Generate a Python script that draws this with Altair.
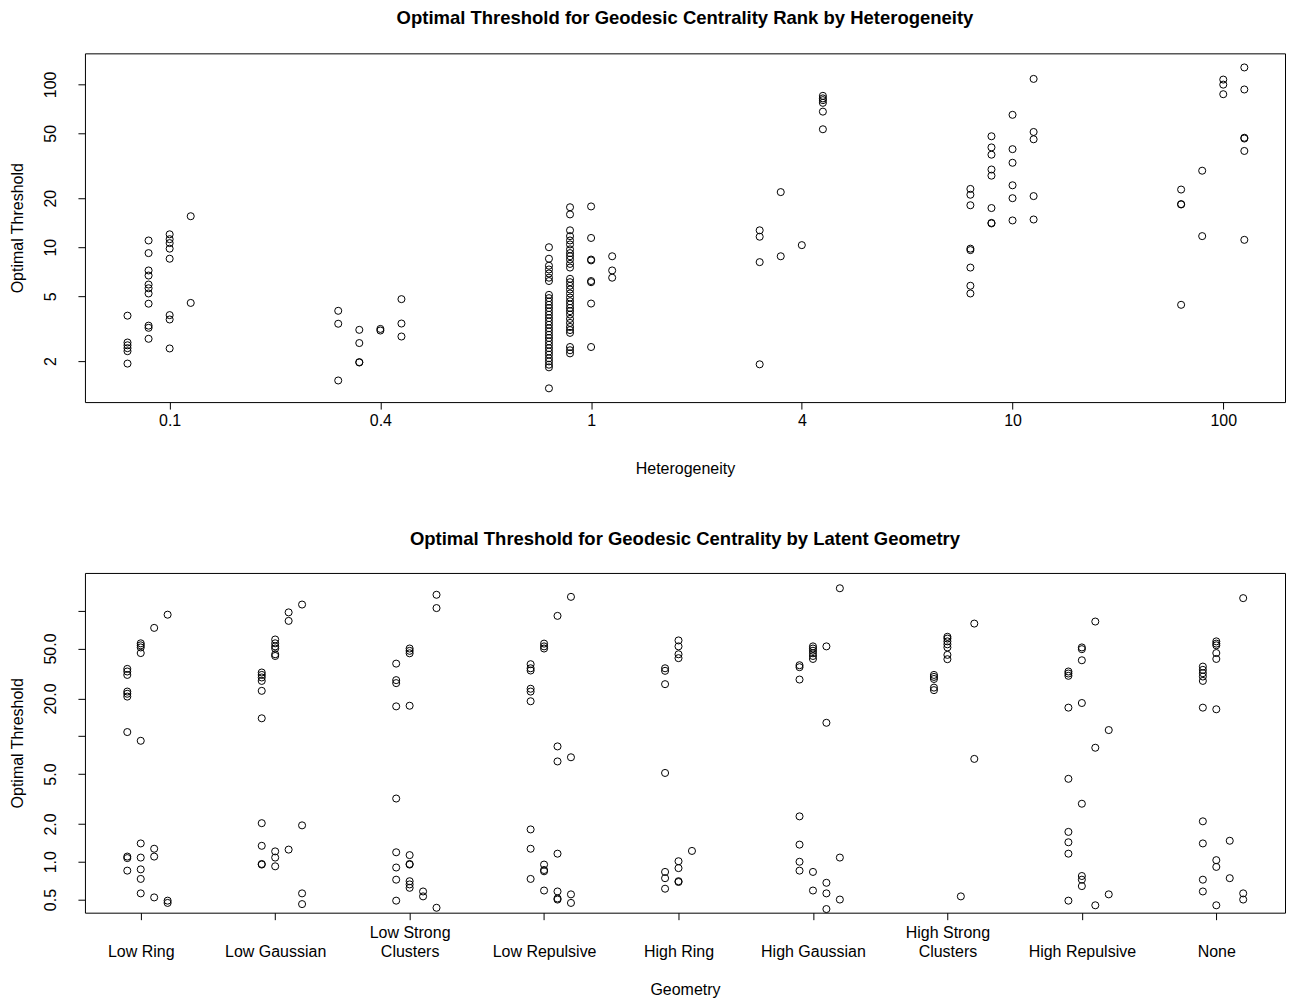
import json
import altair as alt
import pandas as pd

# ---------------- Top panel data: Heterogeneity ----------------
HET_LEVELS = ["0.1", "0.4", "1", "4", "10", "100"]
HET_OFFSETS = [-0.2, -0.1, 0.0, 0.1]

het_01 = [
    [3.8, 2.6, 2.5, 2.4, 2.3, 1.93],
    [11.0, 9.2, 7.2, 6.7, 5.9, 5.6, 5.2, 4.5, 3.3, 3.2, 2.74],
    [12.0, 11.2, 10.6, 9.8, 8.5, 3.83, 3.6, 2.39],
    [15.5, 4.55],
]
het_04 = [
    [4.07, 3.39, 1.52],
    [3.11, 2.58, 1.97, 1.96],
    [3.15, 3.08],
    [4.8, 3.4, 2.83],
]
het_1 = [
    [10.0, 8.5, 7.7, 7.3, 6.9, 6.5, 6.2, 5.1, 4.87, 4.64, 4.43, 4.23, 4.03, 3.85,
     3.67, 3.50, 3.34, 3.18, 3.04, 2.90, 2.77, 2.64, 2.52, 2.40, 2.29, 2.19, 2.08,
     1.99, 1.90, 1.83, 1.36],
    [17.6, 15.9, 12.7, 11.7, 11.0, 10.4, 9.7, 9.2, 8.8, 8.4, 7.9, 7.5, 6.4, 6.1,
     5.8, 5.5, 5.2, 4.91, 4.66, 4.45, 4.24, 4.05, 3.86, 3.63, 3.43, 3.24, 3.10,
     2.98, 2.44, 2.33, 2.23],
    [17.8, 11.4, 8.4, 8.3, 6.2, 6.1, 4.51, 2.44],
    [8.8, 7.2, 6.5],
]
het_4 = [
    [12.7, 11.6, 8.1, 1.91],
    [21.8, 8.8],
    [10.3],
    [85, 82, 80, 77, 68, 53],
]
het_10 = [
    [22.8, 21.0, 18.1, 9.8, 9.6, 7.5, 5.8, 5.2],
    [48, 41, 37, 30, 27.5, 17.4, 14.1, 14.0],
    [65, 40, 33, 24, 20, 14.6],
    [108, 51, 46, 20.6, 14.8],
]
het_100 = [
    [22.6, 18.4, 18.3, 4.43],
    [29.5, 11.7],
    [107, 99.6, 87],
    [127, 93, 47, 46.5, 39, 11.1],
]
HET_DATA = [het_01, het_04, het_1, het_4, het_10, het_100]

# ---------------- Bottom panel data: Geometry ----------------
GEOMS = ["Low Ring", "Low Gaussian", "Low Strong Clusters", "Low Repulsive",
         "High Ring", "High Gaussian", "High Strong Clusters", "High Repulsive", "None"]
GEO_OFFSETS = [-0.1, 0.0, 0.1, 0.2]

g_low_ring = [
    [34.4, 32.8, 30.8, 22.7, 21.8, 20.7, 10.8, 1.10, 1.07, 0.85],
    [55, 53, 51, 46, 9.2, 1.40, 1.08, 0.87, 0.73, 0.56],
    [73, 1.27, 1.10, 0.52],
    [93, 0.49, 0.47],
]
g_low_gauss = [
    [32.2, 30.8, 29.4, 27.6, 23.0, 13.9, 2.03, 1.34, 0.96, 0.95],
    [59, 55, 52, 50, 45, 43.6, 1.21, 1.08, 0.92],
    [97, 83, 1.25],
    [112, 1.95, 0.56, 0.46],
]
g_low_clus = [
    [37.9, 28, 26.5, 17.3, 3.19, 1.19, 0.90, 0.72, 0.49],
    [50, 47.9, 45.8, 17.5, 1.13, 0.96, 0.95, 0.70, 0.66, 0.62],
    [0.58, 0.53],
    [134, 105, 0.43],
]
g_low_rep = [
    [37.5, 34.8, 33.4, 23.9, 22.7, 19.0, 1.81, 1.27, 0.73],
    [54.7, 52, 50, 0.95, 0.86, 0.84, 0.59],
    [91, 8.3, 6.3, 1.16, 0.58, 0.51, 0.50],
    [129, 6.8, 0.55, 0.47],
]
g_high_ring = [
    [34.8, 33.2, 26.0, 5.1, 0.83, 0.74, 0.61],
    [58, 52, 45, 41.9, 1.01, 0.89, 0.70, 0.69],
    [1.22],
    [],
]
g_high_gauss = [
    [36.8, 35.5, 28.3, 2.30, 1.37, 1.0, 0.85],
    [52, 50, 48, 45.8, 43.6, 41.3, 0.83, 0.59],
    [52, 12.8, 0.68, 0.56, 0.42],
    [151, 1.08, 0.50],
]
g_high_clus = [
    [30.8, 29.7, 28.6, 24.4, 23.3],
    [62, 60, 57, 54, 51, 44.5, 41.1],
    [0.53],
    [79, 6.6],
]
g_high_rep = [
    [32.8, 31.6, 30.3, 16.9, 4.58, 1.73, 1.43, 1.16, 0.49],
    [51, 49.4, 40.3, 18.4, 2.90, 0.77, 0.72, 0.64],
    [82, 8.1, 0.45],
    [11.2, 0.55],
]
g_none = [
    [35.9, 33.8, 31.8, 29.9, 27.6, 16.9, 2.10, 1.40, 0.72, 0.58],
    [57, 54.7, 53, 46, 41.3, 16.4, 1.03, 0.91, 0.45],
    [1.47, 0.74],
    [126, 0.56, 0.50],
]
GEO_DATA = [g_low_ring, g_low_gauss, g_low_clus, g_low_rep, g_high_ring,
            g_high_gauss, g_high_clus, g_high_rep, g_none]

TOP_TICKS = [2, 5, 10, 20, 50, 100]
BOT_TICKS = [0.5, 1, 2, 5, 10, 20, 50, 100]
BOT_TICK_LABELS = ["0.5", "1.0", "2.0", "5.0", "", "20.0", "50.0", ""]


def build(levels_data, offsets):
    rows = []
    for i, groups in enumerate(levels_data):
        for off, vals in zip(offsets, groups):
            for v in vals:
                rows.append({"x": i + 1 + off, "v": v})
    return pd.DataFrame(rows)


df_top = build(HET_DATA, HET_OFFSETS)
df_bot = build(GEO_DATA, GEO_OFFSETS)

FONT = "Liberation Sans"
LABEL_SIZE = 16
PLOT_W = 1201

top_label_expr = "%s[round(datum.value) - 1]" % json.dumps(HET_LEVELS)


def two_lines(name):
    # wrap long names in two lines; short names keep an empty first line so the
    # last line of every label sits on the same baseline
    for pre in ("Low Strong", "High Strong"):
        if name.startswith(pre + " "):
            return [pre, name[len(pre) + 1:]]
    return ["", name]


geo_lines = [two_lines(g) for g in GEOMS]
bot_label_expr = "%s[round(datum.value) - 1]" % json.dumps(geo_lines)
bot_y_label_expr = "%s[indexof(%s, datum.value)]" % (json.dumps(BOT_TICK_LABELS), json.dumps(BOT_TICKS))

point = dict(shape="circle", filled=False, color="black", size=50, strokeWidth=1, opacity=1)

yaxis_common = dict(
    title="Optimal Threshold", labelAngle=270, labelAlign="center", labelBaseline="bottom",
    labelPadding=19, titlePadding=17, tickSize=7, domain=False, grid=False,
    labelOverlap=False, labelBound=False,
)

top = alt.Chart(df_top).mark_point(**point).encode(
    x=alt.X("x:Q",
            scale=alt.Scale(domain=[0.598, 6.293], nice=False, zero=False),
            axis=alt.Axis(values=[1, 2, 3, 4, 5, 6], labelExpr=top_label_expr,
                          title="Heterogeneity", tickSize=7, labelPadding=3,
                          titlePadding=32, domain=False, grid=False, labelOverlap=False)),
    y=alt.Y("v:Q",
            scale=alt.Scale(type="log", domain=[1.12, 155], nice=False),
            axis=alt.Axis(values=TOP_TICKS, format="~g", **yaxis_common)),
).properties(
    width=PLOT_W, height=349,
    title=alt.TitleParams("Optimal Threshold for Geodesic Centrality Rank by Heterogeneity",
                          offset=25.5),
)

bottom = alt.Chart(df_bot).mark_point(**point).encode(
    x=alt.X("x:Q",
            scale=alt.Scale(domain=[0.585, 9.511], nice=False, zero=False),
            axis=alt.Axis(values=list(range(1, 10)), labelExpr=bot_label_expr,
                          title="Geometry", tickSize=7, labelPadding=5,
                          labelBaseline="top", titlePadding=22, domain=False,
                          grid=False, labelOverlap=False, labelBound=False)),
    y=alt.Y("v:Q",
            scale=alt.Scale(type="log", domain=[0.393, 200], nice=False),
            axis=alt.Axis(values=BOT_TICKS, labelExpr=bot_y_label_expr, **yaxis_common)),
).properties(
    width=PLOT_W, height=340,
    title=alt.TitleParams("Optimal Threshold for Geodesic Centrality by Latent Geometry",
                          offset=24.5),
)

chart = alt.vconcat(top, bottom, spacing=52).properties(
    padding={"left": 1, "top": 0, "right": 0, "bottom": 0},
    background="white",
).configure_view(
    stroke="black", strokeWidth=1,
).configure_axis(
    labelFont=FONT, titleFont=FONT, labelFontSize=LABEL_SIZE, titleFontSize=LABEL_SIZE,
    labelColor="black", titleColor="black", tickColor="black",
    titleFontWeight="normal", labelLineHeight=19,
).configure_title(
    font=FONT, fontSize=18.5, fontWeight="bold", color="black", anchor="middle",
)

chart.save("out.html", embed_options={"renderer": "svg", "actions": False})
